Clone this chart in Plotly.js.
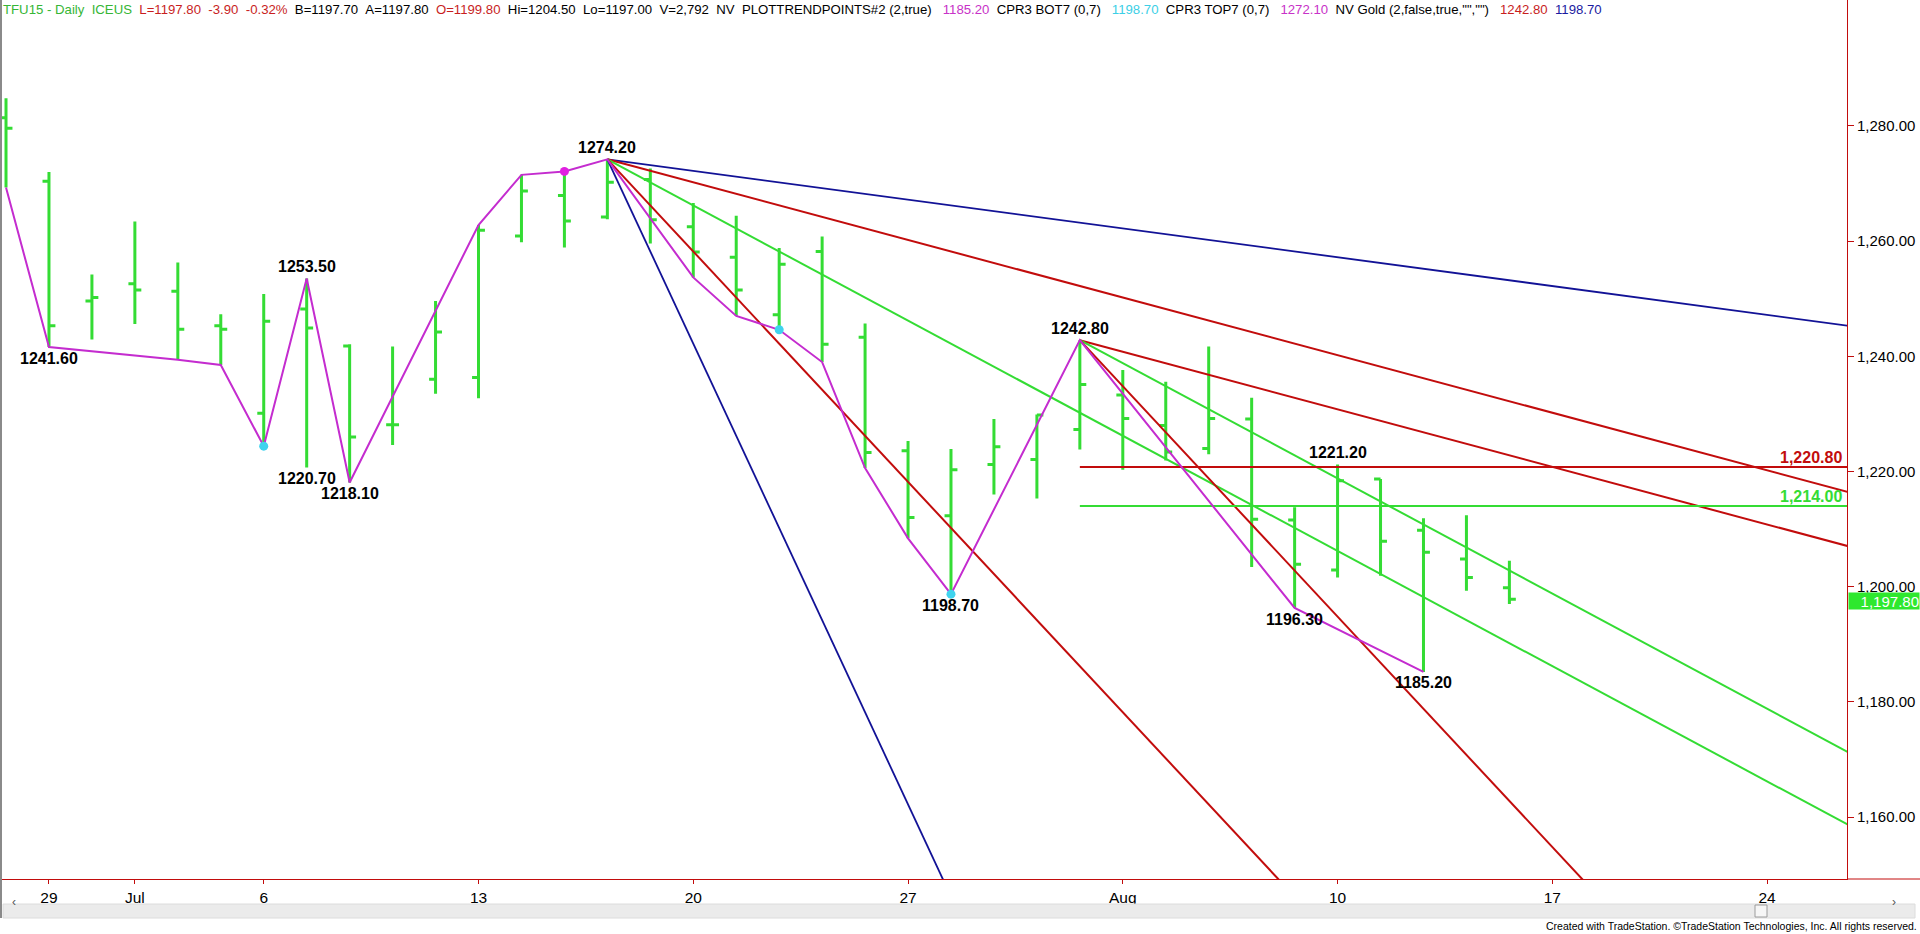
<!DOCTYPE html>
<html>
<head>
<meta charset="utf-8">
<script src="https://cdn.plot.ly/plotly-3.0.1.min.js"></script>
<style>
html,body{margin:0;padding:0;background:#fff;overflow:hidden}
#chart{width:1920px;height:934px}
</style>
</head>
<body>
<div id="chart"></div>
<script>
// ---------------- data ----------------
const barDates = ['2015-06-26','2015-06-29','2015-06-30','2015-07-01','2015-07-02','2015-07-03',
  '2015-07-06','2015-07-07','2015-07-08','2015-07-09','2015-07-10',
  '2015-07-13','2015-07-14','2015-07-15','2015-07-16','2015-07-17',
  '2015-07-20','2015-07-21','2015-07-22','2015-07-23','2015-07-24',
  '2015-07-27','2015-07-28','2015-07-29','2015-07-30','2015-07-31',
  '2015-08-03','2015-08-04','2015-08-05','2015-08-06','2015-08-07',
  '2015-08-10','2015-08-11','2015-08-12','2015-08-13','2015-08-14'];
const futureDays = ['2015-08-17','2015-08-18','2015-08-19','2015-08-20','2015-08-21',
  '2015-08-24','2015-08-25','2015-08-26','2015-08-27'];
const opens  = [1281.4,1270.4,1249.6,1252.6,1251.3,1245.3, 1230.1,1248.2,1241.8,1228.1,1236.0,
  1236.3,1260.9,1267.9,1264.2,1270.7, 1262.5,1257.2,1247.2,1258.2,1243.3,
  1223.6,1212.3,1221.2,1222.1,1227.3, 1233.3,1228.0,1224.0,1229.1,1211.6,
  1202.9,1218.7,1209.8,1204.8,1199.8];
const highs  = [1284.8,1272.0,1254.2,1263.4,1256.3,1247.3, 1250.8,1253.5,1242.1,1241.7,1249.6,
  1262.8,1271.5,1272.1,1274.2,1272.6, 1266.6,1264.4,1258.8,1260.8,1245.7,
  1225.3,1223.9,1229.1,1229.9,1242.8, 1237.6,1235.6,1241.7,1232.8,1213.8,
  1221.2,1218.7,1211.9,1212.4,1204.5];
const lows   = [1269.3,1241.6,1242.9,1245.6,1239.4,1238.5, 1224.4,1220.7,1218.1,1224.6,1233.5,
  1232.7,1259.8,1258.9,1263.8,1259.6, 1253.7,1247.0,1244.6,1239.0,1220.6,
  1208.4,1198.7,1216.0,1215.3,1223.8, 1220.3,1221.9,1223.0,1203.4,1196.3,
  1201.6,1201.9,1185.2,1199.3,1197.0];
const closes = [1279.6,1245.3,1250.2,1251.5,1244.7,1244.7, 1246.1,1244.9,1226.0,1228.1,1244.2,
  1261.9,1268.7,1263.5,1270.2,1263.7, 1258.1,1251.5,1256.0,1242.1,1223.3,
  1212.0,1220.3,1224.3,1229.8,1235.1, 1229.2,1223.4,1229.2,1211.7,1203.9,
  1218.4,1207.9,1206.0,1201.6,1197.8];

const tickDates  = ['2015-06-29','2015-07-01','2015-07-06','2015-07-13','2015-07-20','2015-07-27','2015-08-03','2015-08-10','2015-08-17','2015-08-24'];
const tickLabels = ['29','Jul','6','13','20','27','Aug','10','17','24'];
const priceTicks = [1160,1180,1200,1220,1240,1260,1280];

// PLOTTRENDPOINTS zigzag
const zigDates  = ['2015-06-26','2015-06-29','2015-07-02','2015-07-03','2015-07-06','2015-07-07','2015-07-08',
  '2015-07-13','2015-07-14','2015-07-15','2015-07-16','2015-07-20','2015-07-21','2015-07-22','2015-07-23',
  '2015-07-24','2015-07-27','2015-07-28','2015-07-31','2015-08-07','2015-08-12'];
const zigPrices = [1269.3,1241.6,1239.4,1238.5,1224.4,1253.5,1218.1,
  1262.8,1271.5,1272.1,1274.2,1253.7,1247.0,1244.6,1239.0,
  1220.6,1208.4,1198.7,1242.8,1196.3,1185.2];

// swing point labels
const pivotDates  = ['2015-06-29','2015-07-07','2015-07-07','2015-07-08','2015-07-16','2015-07-28','2015-07-31','2015-08-07','2015-08-10','2015-08-12'];
const pivotPrices = [1241.6,1253.5,1220.7,1218.1,1274.2,1198.7,1242.8,1196.3,1221.2,1185.2];
const pivotSide   = ['below','above','below','below','above','below','above','below','above','below'];

// CPR3 dots
const topDotDates = ['2015-07-15'];
const topDotPrices = [1272.1];
const botDotDates = ['2015-07-06','2015-07-22','2015-07-28'];
const botDotPrices = [1224.4,1244.6,1198.7];

// NV Gold fans (price change per bar)
const fanAnchorDates  = ['2015-07-16','2015-07-31'];
const fanAnchorPrices = [1274.2,1242.8];
const fanSlopes = [[-1,-2,-4,-8,-16],[-2,-4,-8]];
const fanKinds  = [['blue','red','green','red','blue'],['red','green','red']];

// horizontal levels
const levelStartDate = '2015-07-31';
const levelPrices = [1220.8,1214.0];
const levelLabels = ['1,220.80','1,214.00'];
const levelKinds  = ['red','green'];

const lastPrice = 1197.8;
const lastPriceLabel = '1,197.80';

// ---------------- styling ----------------
const tradingDays = barDates.concat(futureDays);
const idx = d => tradingDays.indexOf(d);
const COL = {green:'#34dc34', red:'#c20c0c', blue:'#121296', magenta:'#c42ccf', cyan:'#3fd3ee'};
const NARROW = "'Liberation Sans Narrow','Arial Narrow','Liberation Sans',Arial,sans-serif";
const SANS = "'Liberation Sans',Arial,sans-serif";

const M = {l:0, r:73, t:0, b:55};
const PW = 1920 - M.l - M.r, PH = 934 - M.t - M.b;
const px2paperX = p => (p - M.l) / PW;
const px2paperY = p => 1 - (p - M.t) / PH;
const xEnd = tradingDays.length - 1;

const traces = [];
traces.push({
  type:'ohlc', x: barDates.map(idx), open: opens, high: highs, low: lows, close: closes,
  increasing:{line:{color:COL.green, width:3}}, decreasing:{line:{color:COL.green, width:3}},
  tickwidth:0.15, hoverinfo:'skip', showlegend:false
});

fanAnchorDates.forEach((d, a) => {
  const x0 = idx(d), p0 = fanAnchorPrices[a];
  fanSlopes[a].forEach((s, k) => {
    traces.push({type:'scatter', mode:'lines', x:[x0, xEnd], y:[p0, p0 + s * (xEnd - x0)],
      line:{color:COL[fanKinds[a][k]], width: fanKinds[a][k]==='blue' ? 1.8 : 2}, hoverinfo:'skip', showlegend:false});
  });
});

levelPrices.forEach((p, i) => {
  traces.push({type:'scatter', mode:'lines', x:[idx(levelStartDate), xEnd], y:[p, p],
    line:{color:COL[levelKinds[i]], width:2}, hoverinfo:'skip', showlegend:false});
});

traces.push({type:'scatter', mode:'lines', x: zigDates.map(idx), y: zigPrices,
  line:{color:COL.magenta, width:2}, hoverinfo:'skip', showlegend:false});

traces.push({type:'scatter', mode:'markers', x: topDotDates.map(idx), y: topDotPrices,
  marker:{color:'#e020e0', size:9}, hoverinfo:'skip', showlegend:false});
traces.push({type:'scatter', mode:'markers', x: botDotDates.map(idx), y: botDotPrices,
  marker:{color:COL.cyan, size:9}, hoverinfo:'skip', showlegend:false});

const annotations = [];
pivotDates.forEach((d, i) => {
  annotations.push({x: idx(d), y: pivotPrices[i], xref:'x', yref:'y', showarrow:false,
    text:'<b>' + pivotPrices[i].toFixed(2) + '</b>', yshift: pivotSide[i]==='above' ? 12 : -11,
    font:{family:SANS, size:16, color:'#000'}});
});
levelPrices.forEach((p, i) => {
  annotations.push({xref:'paper', x:1, xanchor:'right', xshift:-4, yref:'y', y:p, yanchor:'bottom',
    showarrow:false, text:'<b>' + levelLabels[i] + '</b>', font:{family:SANS, size:16, color:COL[levelKinds[i]]}, borderpad:0});
});
annotations.push({xref:'paper', x:1, xanchor:'left', xshift:1, yref:'y', y:lastPrice, yanchor:'middle', yshift:-2,
  showarrow:false, text:lastPriceLabel, bgcolor:'#2ee82e', width:70, height:16, align:'right', borderpad:0,
  font:{family:SANS, size:15, color:'#ffffff'}});

const header = '<span style="color:#36b636">TFU15 - Daily&nbsp;&nbsp;ICEUS</span>&nbsp;&nbsp;' +
  '<span style="color:#c81e1e">L=1197.80&nbsp;&nbsp;-3.90&nbsp;&nbsp;-0.32%</span>&nbsp;&nbsp;' +
  'B=1197.70&nbsp;&nbsp;A=1197.80&nbsp;&nbsp;<span style="color:#c81e1e">O=1199.80</span>&nbsp;&nbsp;' +
  'Hi=1204.50&nbsp;&nbsp;Lo=1197.00&nbsp;&nbsp;V=2,792&nbsp;&nbsp;NV&nbsp;&nbsp;PLOTTRENDPOINTS#2 (2,true)&nbsp;&nbsp;&nbsp;' +
  '<span style="color:#c832c8">1185.20</span>&nbsp;&nbsp;CPR3 BOT7 (0,7)&nbsp;&nbsp;&nbsp;' +
  '<span style="color:#3ccfe6">1198.70</span>&nbsp;&nbsp;CPR3 TOP7 (0,7)&nbsp;&nbsp;&nbsp;' +
  '<span style="color:#c832c8">1272.10</span>&nbsp;&nbsp;NV Gold (2,false,true,"","")&nbsp;&nbsp;&nbsp;' +
  '<span style="color:#c81e1e">1242.80</span>&nbsp;&nbsp;<span style="color:#1a1aa0">1198.70</span>';
annotations.push({xref:'paper', x:0, xanchor:'left', xshift:1, yref:'paper', y:1, yanchor:'top', yshift:0,
  showarrow:false, text:header, align:'left', font:{family:NARROW, size:13.2, color:'#000'}});

annotations.push({xref:'paper', x:px2paperX(1918), xanchor:'right', yref:'paper', y:px2paperY(926), yanchor:'middle',
  showarrow:false, text:'Created with TradeStation. ©TradeStation Technologies, Inc. All rights reserved.',
  font:{family:NARROW, size:10.5, color:'#000'}, borderpad:0});
annotations.push({xref:'paper', x:px2paperX(10), yref:'paper', y:px2paperY(911), showarrow:false,
  text:'‹', font:{family:SANS, size:12, color:'#555'}});
annotations.push({xref:'paper', x:px2paperX(1898), yref:'paper', y:px2paperY(911), showarrow:false,
  text:'›', font:{family:SANS, size:12, color:'#555'}});

const shapes = [
  {type:'rect', xref:'paper', yref:'paper', x0:px2paperX(3), x1:px2paperX(1915), y0:px2paperY(918), y1:px2paperY(904),
    fillcolor:'#ebebeb', line:{color:'#dcdcdc', width:1}},
  {type:'rect', xref:'paper', yref:'paper', x0:px2paperX(1755), x1:px2paperX(1767), y0:px2paperY(917), y1:px2paperY(905),
    fillcolor:'#f6f6f6', line:{color:'#9c9c9c', width:1}},
  {type:'line', xref:'paper', yref:'paper', x0:px2paperX(1), x1:px2paperX(1), y0:1, y1:px2paperY(918),
    line:{color:'#8a8a8a', width:2}},
  {type:'line', xref:'paper', yref:'paper', x0:1, x1:px2paperX(1920), y0:0, y1:0,
    line:{color:'#c20c0c', width:1}}
];

const layout = {
  width:1920, height:934, margin:M, paper_bgcolor:'#ffffff', plot_bgcolor:'#ffffff', showlegend:false,
  hovermode:false, dragmode:false,
  xaxis:{range:[-0.14, 42.86], showgrid:false, zeroline:false, showline:true, linecolor:'#c20c0c', linewidth:1,
    ticks:'outside', ticklen:4, tickcolor:'#c20c0c', tickmode:'array', tickvals: tickDates.map(idx), ticktext: tickLabels,
    tickfont:{family:NARROW, size:15.5, color:'#000'}, rangeslider:{visible:false}, fixedrange:true},
  yaxis:{side:'right', range:[1149.25, 1301.86], showgrid:false, zeroline:false, showline:true, linecolor:'#c20c0c', linewidth:1,
    ticks:'outside', ticklen:6, tickcolor:'#c20c0c', tickmode:'array', tickvals: priceTicks,
    ticktext: priceTicks.map(v => v.toLocaleString('en-US', {minimumFractionDigits:2, maximumFractionDigits:2})),
    tickfont:{family:SANS, size:15, color:'#000'}, fixedrange:true},
  annotations: annotations,
  shapes: shapes
};

Plotly.newPlot('chart', traces, layout, {staticPlot:true, displayModeBar:false});
</script>
</body>
</html>
